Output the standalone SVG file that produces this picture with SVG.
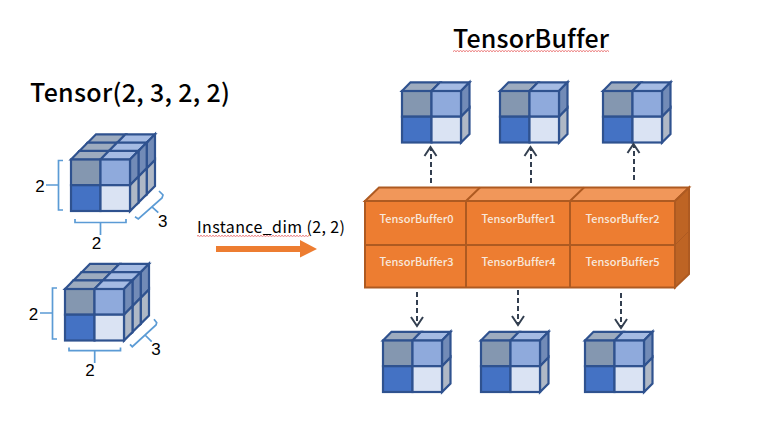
<svg xmlns="http://www.w3.org/2000/svg" width="764" height="432" viewBox="0 0 764 432">
<style>
text{font-family:"Noto Sans CJK SC","Noto Sans",sans-serif;fill:#000;font-variant-ligatures:none}
.title{font-size:25px;font-weight:500}
.dim{font-family:"Liberation Sans",Arial,sans-serif;font-size:17px;text-anchor:middle}
.cap{font-size:16px}
.tb{font-size:11px;font-weight:500;fill:#f8e8dc;text-anchor:middle}
.cube *{stroke:#2f528f;stroke-width:2.200;stroke-linejoin:miter}
.br{fill:none;stroke:#5b9bd5;stroke-width:1.700}
.da{fill:none;stroke:#333f50;stroke-width:2}
.dash{stroke-dasharray:5 3}
.o{stroke:#ae5a21;stroke-width:2}
</style>
<defs>
<pattern id="wavy" width="3" height="2" patternUnits="userSpaceOnUse"><path d="M0 1.700L1.500 .3L3 1.700" fill="none" stroke="#e03030" stroke-width=".7"/></pattern>
<g id="cube" class="cube">
<path d="M0 0L8.500-8.700H38L29.500 0Z" fill="#9dabbf"/>
<path d="M29.500 0L38-8.700H67.500L59 0Z" fill="#a5bbe3"/>
<path d="M59 0L67.500-8.700V17L59 25.700Z" fill="#728bb7"/>
<path d="M59 25.700L67.500 17V43L59 51.500Z" fill="#afb8c6"/>
<rect width="29.500" height="25.700" fill="#8497b0"/>
<rect x="29.500" width="29.500" height="25.700" fill="#8faadc"/>
<rect y="25.700" width="29.500" height="25.800" fill="#4472c4"/>
<rect x="29.500" y="25.700" width="29.500" height="25.800" fill="#dae3f3"/>
</g>
<g id="stack">
<use href="#cube" x="16.500" y="-16.500"/>
<use href="#cube" x="8.200" y="-8.200"/>
<use href="#cube"/>
</g>
</defs>

<g id="title-tensor"><text class="title" x="30" y="102" textLength="200">Tensor(2, 3, 2, 2)</text></g>
<g id="title-buffer"><text class="title" x="453" y="48" textLength="156">TensorBuffer</text><rect x="453" y="50" width="156" height="2" fill="url(#wavy)"/></g>

<g id="tensor-a">
<use href="#stack" x="71" y="159.500"/>
<path class="br" d="M63 160.500H58.500V210H63M58.500 185H46M75 219V222.500H126V219M100.500 222.500V235M135 216.700L138.300 219L162 198L163 195L159 191M151.700 206.700L158.300 212.700"/>
<text class="dim" x="40" y="192">2</text><text class="dim" x="96.500" y="249">2</text><text class="dim" x="162.700" y="227">3</text>
</g>
<g id="tensor-b">
<use href="#stack" x="65" y="289"/>
<path class="br" d="M57 288H52.500V339H57M52.500 313H40M69 347.500V350.700H120.500V347.500M94.700 350.700V363M130 344.300L132.300 346.700L156 325L156.700 322.700L154 319.300M145 335L151.700 341.700"/>
<text class="dim" x="33.500" y="320">2</text><text class="dim" x="90" y="376">2</text><text class="dim" x="156" y="355">3</text>
</g>

<g id="instance-arrow">
<text class="cap" x="197" y="233" textLength="148">Instance_dim (2, 2)</text>
<rect x="197" y="235" width="112" height="2" fill="url(#wavy)"/>
<path d="M216 246H300V240L317 249L300 257.500V252H216Z" fill="#ed7d31"/>
</g>

<g id="tensor-buffer">
<path class="o" d="M365 201L379 187.500H689L675 201Z" fill="#f1975a"/>
<path class="o" d="M675 201L689 187.500V274L675 287.500Z" fill="#be6424"/>
<path d="M675 245L689 231" fill="none" stroke="#ae5a21"/>
<path class="o" d="M466 201L480 187.500M570 201L584 187.500" fill="none"/>
<rect class="o" x="365" y="201" width="310" height="86.500" fill="#ed7d31"/>
<path class="o" d="M365 245H675M466 201V287.500M570 201V287.500" fill="none"/>
</g>
<g id="tb0"><text class="tb" x="416.500" y="223">TensorBuffer0</text></g>
<g id="tb1"><text class="tb" x="518.500" y="223">TensorBuffer1</text></g>
<g id="tb2"><text class="tb" x="622.500" y="223">TensorBuffer2</text></g>
<g id="tb3"><text class="tb" x="416.500" y="266">TensorBuffer3</text></g>
<g id="tb4"><text class="tb" x="518.500" y="266">TensorBuffer4</text></g>
<g id="tb5"><text class="tb" x="622.500" y="266">TensorBuffer5</text></g>

<g id="cube-top-0"><use href="#cube" x="402" y="91"/></g>
<g id="cube-top-1"><use href="#cube" x="500" y="91"/></g>
<g id="cube-top-2"><use href="#cube" x="603" y="91"/></g>
<g id="cube-bottom-0"><use href="#cube" x="383" y="340.500"/></g>
<g id="cube-bottom-1"><use href="#cube" x="481" y="340.500"/></g>
<g id="cube-bottom-2"><use href="#cube" x="585" y="340.500"/></g>

<g id="connectors">
<path class="da dash" d="M431 183V148M531 183V148M634 180V145M417 292V325M518 290V324M621 293V327"/>
<path class="da" d="M424.500 156L430.500 147L436.500 156M524.500 156L530.500 147L536.500 156M627.500 153L633.500 144L639.500 153M411 317L417 326L423 317M512 316L518 325L524 316M615 319L621 328L627 319"/>
</g>
</svg>
